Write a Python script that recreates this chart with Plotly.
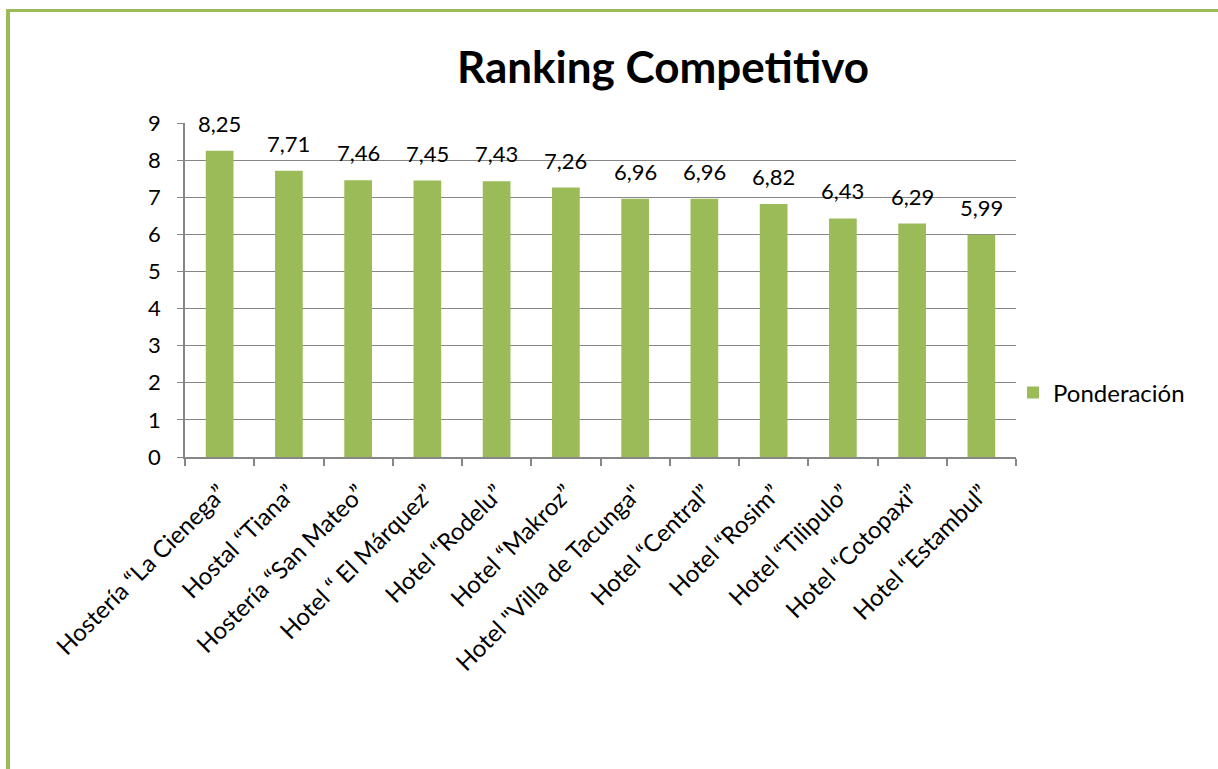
import plotly.graph_objects as go

categories = [
    "Hostería “La Cienega”",
    "Hostal “Tiana”",
    "Hostería “San Mateo”",
    "Hotel “ El Márquez”",
    "Hotel “Rodelu”",
    "Hotel “Makroz”",
    "Hotel \"Villa de Tacunga\"",
    "Hotel “Central”",
    "Hotel “Rosim”",
    "Hotel “Tilipulo”",
    "Hotel “Cotopaxi”",
    "Hotel “Estambul”",
]
ponderacion = [8.25, 7.71, 7.46, 7.45, 7.43, 7.26, 6.96, 6.96, 6.82, 6.43, 6.29, 5.99]
y_ticks = [0, 1, 2, 3, 4, 5, 6, 7, 8, 9]

W, H = 1218, 769
L, R, T, B = 185, 1016, 123, 457
pw, ph = R - L, B - T

def px_x(x):
    return (x - L) / pw

def px_y(y):
    return (B - y) / ph

FONT = "Lato, Carlito, Calibri, sans-serif"
GREEN = "#9BBB59"
GRID = "#868686"
FS = 22

fig = go.Figure()
fig.add_trace(go.Bar(
    x=categories, y=ponderacion, name="Ponderación",
    marker=dict(color=GREEN, line=dict(width=0)),
    cliponaxis=False, showlegend=True, hoverinfo="x+y",
))

annotations = [
    dict(x=c, y=v, xref="x", yref="y", text=f"{v:.2f}".replace(".", ","),
         showarrow=False, yanchor="bottom", yshift=12,
         font=dict(size=FS, family=FONT, color="black"))
    for c, v in zip(categories, ponderacion)
]

fig.update_layout(
    width=W, height=H,
    margin=dict(l=L, r=W - R, t=T, b=H - B, autoexpand=False),
    paper_bgcolor="white", plot_bgcolor="white",
    separators=",.",
    bargap=0.6,
    font=dict(family=FONT, size=FS, color="black"),
    title=dict(text="<b>Ranking Competitivo</b>", font=dict(size=44, family=FONT, color="black"),
               x=px_x(663), xref="paper", xanchor="center",
               y=1 - 68 / H, yref="container", yanchor="middle"),
    showlegend=True,
    legend=dict(x=px_x(1013), y=px_y(393), xanchor="left", yanchor="middle",
                font=dict(size=24, family=FONT), bgcolor="rgba(0,0,0,0)",
                itemwidth=30),
    annotations=annotations,
    xaxis=dict(
        type="category", tickangle=-45, tickson="boundaries",
        ticks="outside", ticklen=7, tickcolor=GRID, tickwidth=1.5,
        showline=True, linecolor=GRID, linewidth=1.5,
        showgrid=False, automargin=False, ticklabelstandoff=11,
        tickfont=dict(size=24, family=FONT, color="black"),
    ),
    yaxis=dict(
        range=[0, 9], tickvals=y_ticks, ticktext=[str(v) for v in y_ticks],
        ticks="outside", ticklen=6, tickcolor=GRID, tickwidth=1,
        showline=True, linecolor=GRID, linewidth=1.5,
        showgrid=True, gridcolor=GRID, gridwidth=1, zeroline=False,
        automargin=False, ticklabelstandoff=12,
        tickfont=dict(size=FS, family=FONT, color="black"),
    ),
    shapes=[
        dict(type="line", xref="paper", yref="paper",
             x0=px_x(8), x1=px_x(8), y0=px_y(9), y1=px_y(H + 5),
             line=dict(color=GREEN, width=4)),
        dict(type="line", xref="paper", yref="paper",
             x0=px_x(6), x1=px_x(W + 5), y0=px_y(10.5), y1=px_y(10.5),
             line=dict(color=GREEN, width=3)),
    ],
)

fig.write_html("out.html")
